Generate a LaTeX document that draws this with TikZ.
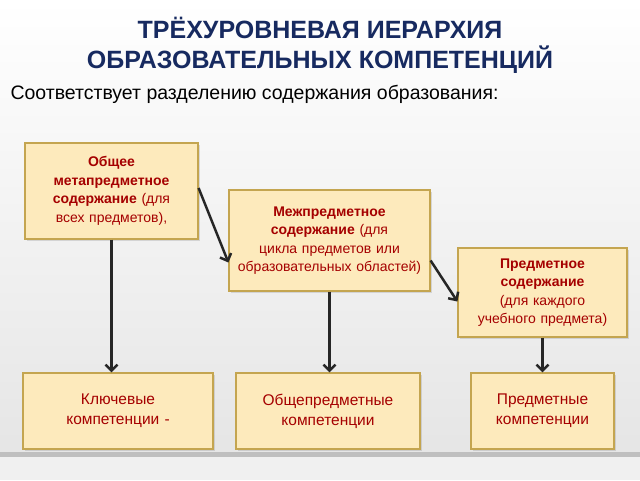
\documentclass[tikz,border=0pt]{standalone}
\usepackage{fontspec}
\setmainfont{Liberation Sans}
\usetikzlibrary{arrows.meta,shadows}
\definecolor{titleblue}{RGB}{23,42,96}
\definecolor{boxfill}{RGB}{253,234,188}
\definecolor{boxline}{RGB}{196,165,80}
\definecolor{textred}{RGB}{165,0,0}
\begin{document}
\begin{tikzpicture}[x=1pt,y=-1pt,
    level/.style={draw=boxline,fill=boxfill,line width=1.2pt,text=textred,align=center,
      font=\fontsize{14}{18.5}\selectfont,drop shadow={opacity=0.25,shadow xshift=2pt,shadow yshift=-2pt}},
    result/.style={level,font=\fontsize{15.5}{20}\selectfont,minimum height=76},
    link/.style={-{Straight Barb[length=6pt,width=12pt]},line width=2.5pt,black!85}]
  \useasboundingbox (0,0) rectangle (640,480);
  \shade[top color=white,bottom color=black!10] (0,0) rectangle (640,452);
  \fill[black!25] (0,452) rectangle (640,457);
  \fill[black!6] (0,457) rectangle (640,480);

  \node (title) at (320,45) [text=titleblue,align=center,font=\fontsize{25}{30}\bfseries\selectfont]
    {ТРЁХУРОВНЕВАЯ ИЕРАРХИЯ\\ОБРАЗОВАТЕЛЬНЫХ КОМПЕТЕНЦИЙ};
  \node (sub) at (7,94) [anchor=west,font=\fontsize{19.5}{22}\selectfont]
    {Соответствует разделению содержания образования:};

  \node (meta) at (111.5,191) [level,minimum width=173,minimum height=96,text width=150]
    {\textbf{Общее метапредметное содержание} (для всех предметов),};
  \node (inter) at (329.5,240.5) [level,minimum width=201,minimum height=101,text width=185]
    {\textbf{Межпредметное содержание} (для цикла предметов или образовательных областей)};
  \node (subj) at (542.5,292.5) [level,minimum width=169,minimum height=89,text width=150]
    {\textbf{Предметное содержание} (для каждого учебного предмета)};

  \node (key) at (118,411) [result,minimum width=190,text width=180]
    {Ключевые\\компетенции -};
  \node (gen) at (328,411) [result,minimum width=184,text width=175]
    {Общепредметные\\компетенции};
  \node (spec) at (542.5,411) [result,minimum width=143,text width=135]
    {Предметные\\компетенции};

  \draw [link] (meta.east) ++(0,-3) -- ([yshift=-22pt]inter.west);
  \draw [link] ([yshift=-20pt]inter.east) -- ([yshift=-9pt]subj.west);
  \draw [link] (meta.south) -- (meta.south |- key.north);
  \draw [link] (inter.south) -- (inter.south |- gen.north);
  \draw [link] (subj.south) -- (spec.north);
\end{tikzpicture}
\end{document}
